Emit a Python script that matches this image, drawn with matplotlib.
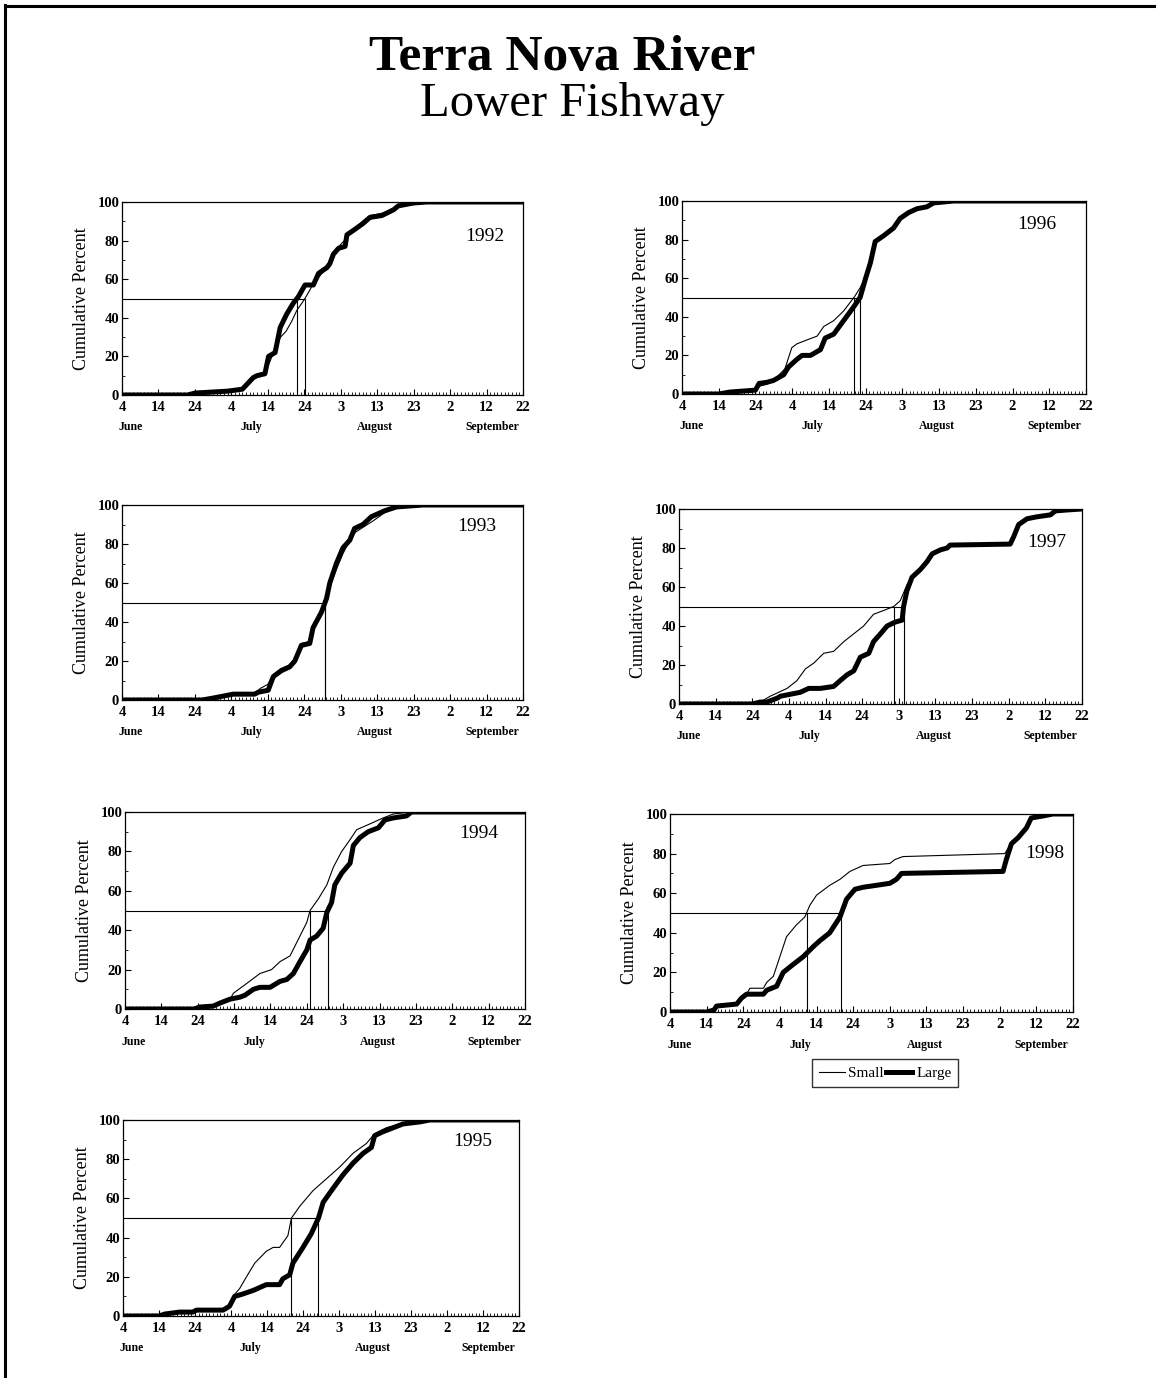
import numpy as np
import matplotlib
matplotlib.use("Agg")
import matplotlib.pyplot as plt
from matplotlib.lines import Line2D
from matplotlib.transforms import blended_transform_factory

plt.rcParams['font.family'] = ['Liberation Serif', 'DejaVu Serif']

# Day index 0 = June 4; cumulative percent of run passed
# ---- 1992 ----
large_1992_day = [0, 18, 20, 29, 33, 36, 37, 39.2, 40.2, 42, 43.4, 45.2, 47, 48.4, 50.2, 52.5, 53.9, 56.2, 57, 58, 59.4, 61.2, 61.7, 64, 66.2, 68, 71.3, 74.5, 75.8, 80, 83.6, 110]
large_1992_pct = [0, 0, 1, 2, 3, 9, 10, 11, 20, 22, 35, 42, 47.6, 51, 57, 57, 63, 66, 68, 73, 76, 77, 83, 86, 89, 92, 93, 96, 98, 99.5, 100, 100]
small_1992_day = [0, 18, 20, 29, 33, 36, 37, 39, 40.5, 42, 43.5, 45, 46.5, 48, 49.5, 50.5, 52, 54, 56, 58, 59.5, 61, 62, 64, 66, 68, 71, 74.5, 76, 80, 83.6, 110]
small_1992_pct = [0, 0, 1, 2, 3, 9, 10, 11, 17, 24, 30, 33, 38, 44, 48, 51, 56, 61, 66, 72, 77, 80, 83, 86, 90, 93, 94, 96, 98, 99.5, 100, 100]

# ---- 1993 ----
large_1993_day = [0, 22, 25, 27.8, 30.5, 36.4, 37.4, 40.1, 41.5, 43.7, 46, 47.4, 49.2, 51.5, 52.4, 54.7, 56.1, 57, 58.8, 60.6, 62.5, 63.8, 66.1, 68.4, 72, 75.3, 82.6, 110]
large_1993_pct = [0, 0, 1, 2, 3, 3, 4, 5, 12, 15, 17, 20, 28, 29, 37, 45, 52, 60, 70, 78, 82, 88, 90, 94, 97, 99, 100, 100]
small_1993_day = [0, 22, 25, 27.8, 30.5, 36, 38, 40, 41.5, 43.5, 46, 47.5, 49.2, 51.5, 52.4, 54.7, 56, 57, 58.8, 60.6, 62.5, 64, 66.5, 69, 72, 75.3, 82.6, 110]
small_1993_pct = [0, 0, 1, 2, 3, 3, 6, 8, 13, 16, 18, 21, 29, 30, 37, 45, 51, 58, 67, 75, 82, 86, 89, 92, 96, 99, 100, 100]

# ---- 1994 ----
large_1994_day = [0, 19, 20.6, 24.3, 26.1, 28.9, 31.6, 33, 35.3, 37.1, 39.9, 42.6, 44.5, 46.3, 48.1, 50, 50.9, 52.7, 54.5, 55.5, 56.8, 57.7, 59.6, 61.9, 62.8, 64.6, 66.9, 69.7, 71.5, 73.8, 77.4, 78.8, 110]
large_1994_pct = [0, 0, 1, 1.5, 3, 5, 6, 7, 10, 11, 11, 14, 15, 18, 24, 30, 35, 37, 41, 49, 54, 63, 69, 74, 83, 87, 90, 92, 96, 97, 98, 100, 100]
small_1994_day = [0, 19, 20.6, 24.3, 26.1, 28.9, 29.8, 33.5, 37.1, 40.3, 42.6, 45.4, 48.1, 50, 50.9, 53.2, 55.5, 57.3, 59.6, 61.9, 63.7, 67.4, 71, 73.8, 78.8, 110]
small_1994_pct = [0, 0, 1, 1.5, 3, 5, 8, 13, 18, 20, 24, 27, 37, 44, 50, 56, 63, 72, 80, 86, 91, 94, 97, 99, 100, 100]

# ---- 1995 ----
large_1995_day = [0, 10, 11.6, 15.7, 19.4, 20.4, 27.8, 29.6, 31, 32.9, 36.1, 39.8, 43.5, 44.4, 46.3, 47.2, 50, 52.3, 54.3, 55.6, 58.3, 61.1, 63.9, 66.7, 69, 69.9, 72.2, 75, 77.8, 82.4, 85.2, 110]
large_1995_pct = [0, 0, 1, 2, 2, 3, 3, 5, 10, 11, 13, 16, 16, 19, 21, 27, 35, 42, 50, 58, 65, 72, 78, 83, 86, 92, 94, 96, 98, 99, 100, 100]
small_1995_day = [0, 10, 11.6, 15.7, 19.4, 20.4, 27.8, 29.6, 31, 32.4, 34.3, 36.6, 39.8, 41.7, 43.5, 45.8, 46.8, 49.1, 52.8, 56.5, 60.2, 63.9, 67.6, 69.9, 73.1, 76.9, 84.3, 110]
small_1995_pct = [0, 0, 1, 2, 2, 3, 3, 6, 11, 14, 20, 27, 33, 35, 35, 41, 50, 56, 64, 70, 76, 83, 88, 93, 96, 98, 100, 100]

# ---- 1996 ----
large_1996_day = [0, 10, 13, 20, 21, 23, 24.9, 27.7, 29, 31.3, 32.7, 35, 37.7, 39, 41.3, 44, 46.7, 48.5, 50, 51.3, 52.6, 54.9, 57.6, 59.4, 61.7, 64, 66.7, 68.5, 74, 110]
large_1996_pct = [0, 0, 1, 2, 5.5, 6, 7, 10, 14, 18, 20, 20, 23, 29, 31, 38, 45, 50, 60, 68, 79, 82, 86, 91, 94, 96, 97, 99, 100, 100]
small_1996_day = [0, 10, 13, 20, 21, 23, 24.9, 28, 29.9, 31.3, 34, 36.8, 38.6, 41.3, 44, 47, 48.5, 50, 51.3, 52.6, 54.9, 57.6, 59.4, 61.7, 64, 66.7, 68.5, 74, 110]
small_1996_pct = [0, 0, 1, 2, 4, 5, 7, 13, 24, 26, 28, 30, 35, 38, 43, 50.5, 55, 61, 68, 79, 82, 86, 91, 94, 96, 97, 99, 100, 100]

# ---- 1997 ----
large_1997_day = [0, 20, 22.2, 24, 26.8, 27.7, 30.4, 33.1, 35.4, 38.6, 42.2, 44, 45.9, 47.7, 49.5, 51.8, 53.1, 55, 56.8, 59, 60.9, 61.3, 62.2, 63.6, 65.9, 67.7, 69.1, 71.3, 73.2, 74, 90.4, 91.4, 92.7, 95, 97.7, 101.4, 102.7, 105.9, 110]
large_1997_pct = [0, 0, 1, 1, 3, 4, 5, 6, 8, 8, 9, 12, 15, 17, 24, 26, 32, 36, 40, 42, 43, 50, 58, 65, 69, 73, 77, 79, 80, 81.5, 82, 86, 92, 95, 96, 97, 99, 99.5, 100]
small_1997_day = [0, 20, 22.2, 24.9, 29.5, 32.2, 34.5, 36.8, 39.5, 42.2, 45, 47.7, 50.4, 53.1, 55.9, 58.6, 60.4, 62.2, 63.6, 65.9, 67.7, 69.1, 71.3, 73.2, 74, 90.4, 91.4, 92.7, 95, 97.7, 101.4, 102.7, 105.9, 110]
small_1997_pct = [0, 0, 1, 4, 8, 12, 18, 21, 26, 27, 32, 36, 40, 46, 48, 50, 53, 61, 65, 69, 73, 77, 79, 80, 81.5, 82, 86, 92, 95, 96, 97, 99, 99.5, 100]

# ---- 1998 ----
large_1998_day = [0, 10, 12, 12.7, 18.2, 19.5, 20.9, 25.5, 26.4, 29.1, 30.9, 33.6, 36.4, 39.1, 40.9, 43.6, 46.4, 48.2, 50.5, 52.7, 56.4, 60, 61.8, 63.2, 90.9, 91.8, 93.2, 95, 97.3, 98.6, 101.8, 104.5, 110]
large_1998_pct = [0, 0, 1, 3, 4, 7, 9, 9, 11, 13, 20, 24, 28, 33, 36, 40, 48, 57, 62, 63, 64, 65, 67, 70, 71, 77, 85, 88, 93, 98, 99, 100, 100]
small_1998_day = [0, 10, 12, 12.7, 18.2, 19.5, 20.9, 21.8, 25.5, 26.4, 28.2, 30, 31.8, 34.5, 36.8, 38.2, 40, 43.6, 46.4, 49.1, 52.7, 60, 61.4, 63.6, 91.4, 92.7, 94, 95.5, 97.3, 98.6, 101.8, 104.5, 110]
small_1998_pct = [0, 0, 1, 3, 4, 7, 9, 12, 12, 15, 18, 28, 38, 44, 48, 54, 59, 64, 67, 71, 74, 75, 77, 78.5, 80, 84, 87, 89, 93, 98, 99, 100, 100]

years = ["1992", "1996", "1993", "1997", "1994", "1998", "1995"]
series = {
    "1992": (large_1992_day, large_1992_pct, small_1992_day, small_1992_pct),
    "1993": (large_1993_day, large_1993_pct, small_1993_day, small_1993_pct),
    "1994": (large_1994_day, large_1994_pct, small_1994_day, small_1994_pct),
    "1995": (large_1995_day, large_1995_pct, small_1995_day, small_1995_pct),
    "1996": (large_1996_day, large_1996_pct, small_1996_day, small_1996_pct),
    "1997": (large_1997_day, large_1997_pct, small_1997_day, small_1997_pct),
    "1998": (large_1998_day, large_1998_pct, small_1998_day, small_1998_pct),
}

tick_days = [0, 10, 20, 30, 40, 50, 60, 70, 80, 90, 100, 110]
tick_labels = ["4", "14", "24", "4", "14", "24", "3", "13", "23", "2", "12", "22"]
month_names = ["June", "July", "August", "September"]
month_pos = [2.5, 35.5, 69.5, 101.5]

# panel boxes in pixels: left, right, top, bottom
W, H = 1156, 1378
boxes = {
    "1992": (122, 523, 202, 395),
    "1996": (682, 1086, 201, 394),
    "1993": (122, 523, 505, 700),
    "1997": (679, 1082, 509, 704),
    "1994": (125, 525, 812, 1009),
    "1998": (670, 1073, 814, 1012),
    "1995": (123, 519, 1120, 1316),
}
year_xy = {
    "1992": (99.6, 82), "1996": (96.6, 88), "1993": (97.2, 89),
    "1997": (100.5, 82.6), "1994": (97.2, 89), "1998": (102.3, 80),
    "1995": (97.2, 89),
}

fig = plt.figure(figsize=(W / 100, H / 100), dpi=100)

# page frame (left and top rules)
fig.add_artist(Line2D([5 / W, 5 / W], [0, 1 - 5 / H], color="black", lw=2.2, transform=fig.transFigure))
fig.add_artist(Line2D([5 / W, 1], [1 - 6 / H, 1 - 6 / H], color="black", lw=2.2, transform=fig.transFigure))

fig.text(562 / W, 1 - 70 / H, "Terra Nova River", ha="center", va="baseline",
         fontsize=37, fontweight="bold")
fig.text(572 / W, 1 - 116 / H, "Lower Fishway", ha="center", va="baseline",
         fontsize=35)

for yr in years:
    l, r, t, b = boxes[yr]
    ax = fig.add_axes([l / W, 1 - b / H, (r - l) / W, (b - t) / H])
    ld, lp, sd, sp = series[yr]
    ax.plot(sd, sp, color="black", lw=0.8, zorder=3)
    ax.plot(ld, lp, color="black", lw=3.6, zorder=2, solid_joinstyle="round")

    # 50 % passage markers
    med_s = float(np.interp(50, sp, sd))
    med_l = float(np.interp(50, lp, ld))
    ax.plot([0, max(med_s, med_l)], [50, 50], color="black", lw=0.8, zorder=4)
    ax.plot([med_s, med_s], [0, 50], color="black", lw=0.8, zorder=4)
    ax.plot([med_l, med_l], [0, 50], color="black", lw=0.8, zorder=4)

    ax.set_xlim(0, 110)
    ax.set_ylim(0, 100)
    ax.set_xticks(tick_days)
    ax.set_xticklabels(tick_labels)
    ax.set_xticks(np.arange(0, 111, 1), minor=True)
    ax.set_yticks([0, 20, 40, 60, 80, 100])
    ax.set_yticks([10, 30, 50, 70, 90], minor=True)
    ax.tick_params(axis="both", which="major", direction="in", length=4, width=0.8,
                   labelsize=10.5, pad=2)
    ax.tick_params(axis="both", which="minor", direction="in", length=2.5, width=0.6)
    ax.tick_params(axis="x", which="major", pad=4)
    for lab in ax.get_xticklabels() + ax.get_yticklabels():
        lab.set_fontweight("bold")
    for sp_ in ax.spines.values():
        sp_.set_linewidth(0.9)

    ax.set_ylabel("Cumulative Percent", fontsize=13, labelpad=5)
    trans = blended_transform_factory(ax.transData, ax.transAxes)
    for name, pos in zip(month_names, month_pos):
        ax.text(pos, -0.165, name, transform=trans, ha="center", va="center",
                fontsize=8.5, fontweight="bold")
    yx, yy = year_xy[yr]
    ax.text(yx, yy, yr, ha="center", va="center", fontsize=14)

handles = [Line2D([], [], color="black", lw=0.8), Line2D([], [], color="black", lw=3.6)]
fig.legend(handles, ["Small", "Large"], loc="center", bbox_to_anchor=(885 / W, 1 - 1073 / H),
           ncol=2, frameon=True, fancybox=False, edgecolor="black", fontsize=11,
           handlelength=1.7, handletextpad=0.25, columnspacing=0.15, borderpad=0.45)

fig.savefig("out.png", dpi=100, facecolor="white")
